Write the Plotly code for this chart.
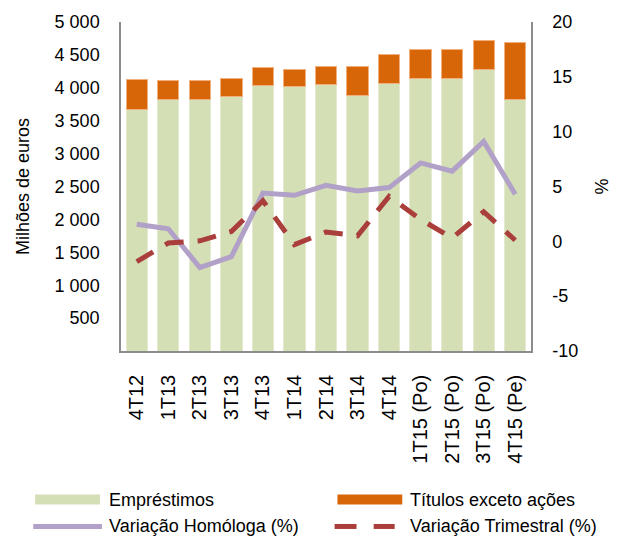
import plotly.graph_objects as go

# Quarterly data
trimestres = ["4T12", "1T13", "2T13", "3T13", "4T13", "1T14", "2T14", "3T14",
              "4T14", "1T15 (Po)", "2T15 (Po)", "3T15 (Po)", "4T15 (Pe)"]
emprestimos = [3667, 3823, 3823, 3864, 4030, 4015, 4045, 3889, 4065, 4146, 4146, 4273, 3818]
titulos = [454, 292, 283, 282, 273, 268, 273, 440, 444, 440, 440, 439, 874]
variacao_homologa = [1.55, 1.15, -2.4, -1.4, 4.4, 4.2, 5.1, 4.6, 4.9, 7.15, 6.4, 9.1, 4.3]
variacao_trimestral = [-1.85, -0.15, 0.05, 0.9, 3.7, -0.3, 0.85, 0.5, 4.1, 2.0, 0.3, 2.7, 0.1]

ticks_esq = [500, 1000, 1500, 2000, 2500, 3000, 3500, 4000, 4500, 5000]
ticks_dir = [-10, -5, 0, 5, 10, 15, 20]
ticks_dir_texto = ["-10", "-5", "0", "5", "10", "15", "20"]

VERDE = "#D4DFB5"
LARANJA = "#D66608"
LILAS = "#B1A0C7"
VERMELHO = "#A93E3B"
EIXO = "#8C8C8C"
FONTE = "Liberation Sans, Arial, sans-serif"

W, H = 621, 540
ML, MR, MT, MB = 121, 70, 21, 189
PW, PH = W - ML - MR, H - MT - MB


def px(x):
    return (x - ML) / PW


def py(y):
    return (H - MB - y) / PH


fig = go.Figure()
fig.add_trace(go.Bar(x=trimestres, y=emprestimos, name="Empréstimos",
                     marker=dict(color=VERDE, line=dict(color="#E3EAD0", width=1))))
fig.add_trace(go.Bar(x=trimestres, y=titulos, name="Títulos exceto ações",
                     marker=dict(color=LARANJA, line=dict(color="#F1B07E", width=1))))
fig.add_trace(go.Scatter(x=trimestres, y=variacao_homologa, name="Variação Homóloga (%)",
                         mode="lines", yaxis="y2",
                         line=dict(color=LILAS, width=5)))
fig.add_trace(go.Scatter(x=trimestres, y=variacao_trimestral, name="Variação Trimestral (%)",
                         mode="lines", yaxis="y2",
                         line=dict(color=VERMELHO, width=5, dash="19px,14px")))

# Legend drawn below the plot: swatches and labels
ROW1, ROW2 = 500, 527
shapes = [
    dict(type="rect", xref="paper", yref="paper", x0=px(31), x1=px(99),
         y0=py(ROW1 + 5), y1=py(ROW1 - 5), fillcolor=VERDE, line=dict(width=0)),
    dict(type="rect", xref="paper", yref="paper", x0=px(348), x1=px(416),
         y0=py(ROW1 + 5), y1=py(ROW1 - 5), fillcolor=LARANJA, line=dict(width=0)),
    dict(type="line", xref="paper", yref="paper", x0=px(29), x1=px(101), y0=py(ROW2), y1=py(ROW2),
         line=dict(color=LILAS, width=5)),
    dict(type="line", xref="paper", yref="paper", x0=px(345), x1=px(368), y0=py(ROW2), y1=py(ROW2),
         line=dict(color=VERMELHO, width=5)),
    dict(type="line", xref="paper", yref="paper", x0=px(386), x1=px(408), y0=py(ROW2), y1=py(ROW2),
         line=dict(color=VERMELHO, width=5)),
]
legendas = [("Empréstimos", 106, ROW1), ("Títulos exceto ações", 422, ROW1),
            ("Variação Homóloga (%)", 106, ROW2), ("Variação Trimestral (%)", 422, ROW2)]
annotations = [dict(text=t, xref="paper", yref="paper", x=px(x), y=py(y), xanchor="left",
                    yanchor="middle", showarrow=False, font=dict(size=18, color="#000000"))
               for t, x, y in legendas]

fig.update_layout(
    width=W, height=H,
    margin=dict(l=ML, r=MR, t=MT, b=MB, pad=0),
    barmode="stack", bargap=0.326,
    plot_bgcolor="white", paper_bgcolor="white",
    font=dict(family=FONTE, size=18, color="#000000"),
    separators=", ",
    showlegend=False,
    shapes=shapes, annotations=annotations,
    xaxis=dict(tickangle=-90, tickfont=dict(size=20), showline=True, linecolor=EIXO,
               linewidth=1.5, ticks="", showgrid=False, ticklabelstandoff=14),
    yaxis=dict(range=[0, 5000], tickvals=ticks_esq, tickformat=",d", showline=True,
               linecolor=EIXO, linewidth=1.5, ticks="", showgrid=False, zeroline=False,
               ticklabelstandoff=16,
               title=dict(text="Milhões de euros", font=dict(size=18), standoff=20)),
    yaxis2=dict(range=[-10, 20], tickvals=ticks_dir, ticktext=ticks_dir_texto,
                overlaying="y", side="right", showline=True,
                linecolor=EIXO, linewidth=1.5, ticks="", showgrid=False, zeroline=False,
                ticklabelstandoff=16,
                title=dict(text="%", font=dict(size=18), standoff=18)),
)

fig.write_html("out.html")
